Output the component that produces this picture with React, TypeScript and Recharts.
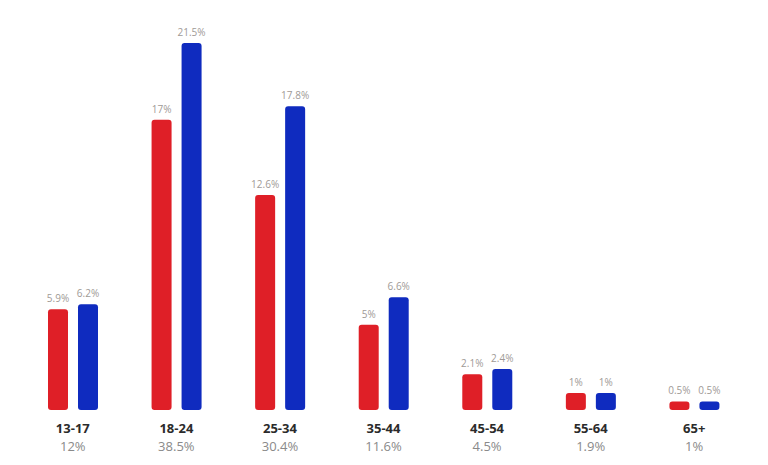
import React from "react";
import { BarChart, Bar, XAxis, YAxis, LabelList } from "recharts";

const categories = ["13-17", "18-24", "25-34", "35-44", "45-54", "55-64", "65+"];
const redValues = [5.9, 17, 12.6, 5, 2.1, 1, 0.5];
const blueValues = [6.2, 21.5, 17.8, 6.6, 2.4, 1, 0.5];
const totals = ["12%", "38.5%", "30.4%", "11.6%", "4.5%", "1.9%", "1%"];

const data = categories.map((c, i) => ({
  name: c,
  red: redValues[i],
  blue: blueValues[i],
  total: totals[i],
}));

const FONT = "'Open Sans', 'DejaVu Sans', sans-serif";

const Tick = (props: any) => {
  const { x, y, payload } = props;
  const idx = categories.indexOf(payload.value);
  return (
    <g transform={`translate(${x},${y})`}>
      <text x={0} y={15} textAnchor="middle" fontFamily={FONT} fontSize={13} fontWeight={700} fill="#2b2b2b">
        {payload.value}
      </text>
      <text x={0} y={33} textAnchor="middle" fontFamily={FONT} fontSize={13} fill="#8a8a8a">
        {totals[idx]}
      </text>
    </g>
  );
};

const fmt = (v: any) => `${v}%`;

export default function App() {
  return (
    <div style={{ position: "absolute", left: 0, top: 0, width: 768, height: 465, background: "#fff" }}>
      <BarChart
        width={768}
        height={465}
        data={data}
        margin={{ top: 43, right: 22, left: 21, bottom: 5 }}
        barSize={20}
        barGap={10}
      >
        <XAxis
          dataKey="name"
          axisLine={false}
          tickLine={false}
          height={50}
          tick={<Tick />}
          interval={0}
        />
        <YAxis hide domain={[0, 21.5]} />
        <Bar dataKey="red" fill="#DF1F27" radius={[3, 3, 3, 3]} isAnimationActive={false}>
          <LabelList dataKey="red" position="top" formatter={fmt} fill="#a09a96" fontSize={10} fontFamily={FONT} offset={7} />
        </Bar>
        <Bar dataKey="blue" fill="#0F2BBF" radius={[3, 3, 3, 3]} isAnimationActive={false}>
          <LabelList dataKey="blue" position="top" formatter={fmt} fill="#a09a96" fontSize={10} fontFamily={FONT} offset={7} />
        </Bar>
      </BarChart>
    </div>
  );
}
